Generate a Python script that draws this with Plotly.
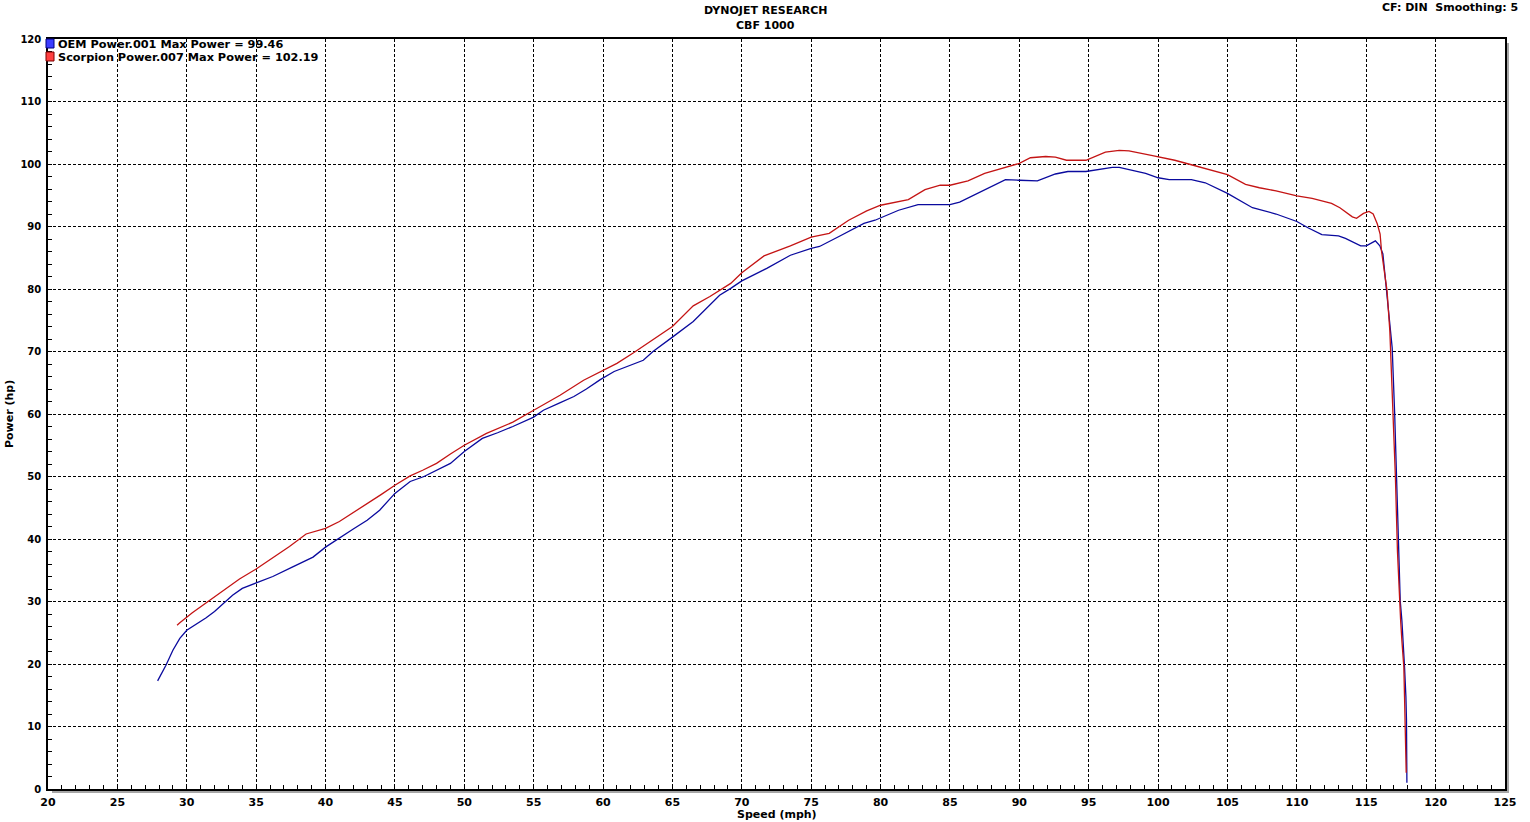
import plotly.graph_objects as go

# ---------------- data ----------------
oem_speed = [27.9, 28.5, 29.0, 29.5, 30.0, 30.7, 31.4, 32.0, 32.7, 33.3, 34.0, 35.0, 36.2, 37.6,
             39.1, 40.0, 41.0, 42.0, 43.0, 43.9, 45.0, 46.1, 47.1, 48.0, 49.0, 50.0, 51.3, 52.4,
             53.5, 55.0, 55.7, 56.8, 57.9, 58.8, 59.8, 60.8, 61.8, 62.9, 63.6, 64.3, 65.0, 66.5,
             67.4, 68.4, 69.2, 70.0, 71.8, 73.5, 75.0, 75.6, 77.0, 78.8, 79.6, 80.5, 81.3, 82.7,
             84.0, 85.0, 85.7, 87.5, 89.0, 90.0, 91.3, 92.6, 93.5, 94.8, 96.7, 97.2, 99.1, 100.0,
             100.8, 102.4, 103.4, 105.0, 106.8, 108.5, 110.0, 110.8, 111.8, 113.0, 113.5, 114.6,
             115.0, 115.66, 115.98, 116.2, 116.3, 116.5, 116.7, 116.87, 117.05, 117.2, 117.35,
             117.45, 117.57, 117.64, 117.76, 117.86, 117.9, 117.93]
oem_power = [17.3, 19.8, 22.2, 24.1, 25.4, 26.4, 27.4, 28.4, 29.8, 31.0, 32.1, 33.0, 34.0, 35.5,
             37.1, 38.7, 40.2, 41.6, 43.0, 44.6, 47.3, 49.2, 50.0, 51.0, 52.1, 54.0, 56.1, 57.0,
             58.0, 59.5, 60.6, 61.7, 62.8, 64.0, 65.5, 66.8, 67.7, 68.6, 70.0, 71.2, 72.3, 74.8,
             76.8, 79.0, 80.1, 81.3, 83.3, 85.4, 86.5, 86.8, 88.4, 90.5, 91.0, 91.8, 92.6, 93.5,
             93.5, 93.5, 93.9, 95.9, 97.5, 97.4, 97.3, 98.4, 98.8, 98.8, 99.46, 99.46, 98.5, 97.8,
             97.5, 97.5, 97.0, 95.3, 93.0, 92.0, 90.8, 89.8, 88.7, 88.5, 88.1, 86.9,
             86.9, 87.7, 86.9, 85.6, 83.4, 79.7, 75.4, 70.6, 60.0, 50.0, 38.0,
             30.1, 26.9, 23.2, 19.5, 14.7, 11.0, 1.0]

scorpion_speed = [29.3, 29.5, 30.4, 31.6, 32.6, 33.8, 35.0, 36.4, 37.4, 38.6, 40.0, 41.0, 42.0,
                  43.0, 44.0, 45.0, 46.1, 47.0, 48.0, 49.0, 50.0, 51.6, 52.5, 53.5, 55.0, 56.0,
                  56.9, 58.6, 59.8, 61.0, 62.2, 63.4, 65.0, 66.5, 67.7, 69.2, 70.0, 71.6, 73.5,
                  75.0, 76.3, 77.7, 79.0, 80.0, 81.3, 82.0, 83.2, 84.3, 85.0, 86.3, 87.5, 89.0,
                  90.0, 90.8, 91.9, 92.6, 93.4, 94.8, 96.2, 97.2, 97.9, 99.6, 101.2, 102.2, 104.4,
                  105.0, 106.3, 107.3, 108.5, 110.0, 111.1, 112.5, 113.1, 114.0, 114.3, 114.8,
                  115.2, 115.5, 115.8, 116.0, 116.1, 116.3, 116.5, 116.7, 116.75, 116.95, 117.1,
                  117.25, 117.38, 117.48, 117.57, 117.71, 117.76, 117.8, 117.88]
scorpion_power = [26.2, 26.6, 28.2, 30.1, 31.8, 33.6, 35.2, 37.3, 38.8, 40.8, 41.7, 42.8, 44.2,
                  45.7, 47.1, 48.6, 50.1, 51.0, 52.1, 53.6, 55.0, 56.9, 57.8, 58.7, 60.6, 61.8,
                  63.0, 65.4, 66.8, 68.1, 69.8, 71.6, 74.0, 77.3, 78.8, 80.9, 82.6, 85.3, 86.9,
                  88.3, 88.9, 91.0, 92.5, 93.4, 94.05, 94.3, 95.9, 96.6, 96.6, 97.3, 98.5, 99.5,
                  100.1, 101.0, 101.2, 101.1, 100.6, 100.6, 101.9, 102.19, 102.1, 101.35, 100.6,
                  100.0, 98.6, 98.3, 96.75, 96.2, 95.7, 94.9, 94.5, 93.7, 93.0, 91.55, 91.3, 92.1,
                  92.4, 92.0, 90.4, 88.8, 86.1, 82.4, 79.7, 73.3, 70.6, 60.0, 50.0,
                  38.0, 30.1, 26.9, 23.7, 19.5, 14.7, 11.0, 2.6]

legend_labels = ["OEM Power.001 Max Power = 99.46", "Scorpion Power.007 Max Power = 102.19"]
title_lines = ["DYNOJET RESEARCH", "CBF 1000"]
info_text = "CF: DIN  Smoothing: 5"
x_title = "Speed (mph)"
y_title = "Power (hp)"

# ---------------- figure ----------------
W, H = 1530, 822
L, R, T, B = 48, 25, 39, 33
PW, PH = W - L - R, H - T - B
FONT = "DejaVu Sans"

fig = go.Figure()
fig.add_trace(go.Scatter(x=oem_speed, y=oem_power, mode="lines",
                         line=dict(color="#0a0a9e", width=1.3), showlegend=False,
                         name=legend_labels[0]))
fig.add_trace(go.Scatter(x=scorpion_speed, y=scorpion_power, mode="lines",
                         line=dict(color="#c41414", width=1.3), showlegend=False,
                         name=legend_labels[1]))

def px_x(p):
    return (p - L) / PW

def px_y(p):
    return (H - B - p) / PH

shapes = [
    # shadow
    dict(type="rect", xref="paper", yref="paper", layer="below",
         x0=px_x(L + 4), x1=px_x(L + PW + 4), y0=px_y(T + 4), y1=px_y(T + PH + 4),
         fillcolor="#a6a6a6", line=dict(width=0)),
    # white plot area
    dict(type="rect", xref="paper", yref="paper", layer="below",
         x0=0, x1=1, y0=0, y1=1, fillcolor="white", line=dict(width=0)),
    # legend squares
    dict(type="rect", xref="paper", yref="paper", layer="above",
         x0=px_x(46), x1=px_x(54), y0=px_y(48), y1=px_y(39),
         fillcolor="#3d3dff", line=dict(color="#00007a", width=1)),
    dict(type="rect", xref="paper", yref="paper", layer="above",
         x0=px_x(46), x1=px_x(54), y0=px_y(61), y1=px_y(52),
         fillcolor="#ff4040", line=dict(color="#7a0000", width=1)),
]

annotations = [
    dict(text="<b>%s</b>" % title_lines[0], xref="paper", yref="paper",
         x=px_x(765), y=px_y(10), showarrow=False, xanchor="center", yanchor="middle",
         font=dict(family=FONT, size=11, color="black")),
    dict(text="<b>%s</b>" % title_lines[1], xref="paper", yref="paper",
         x=px_x(765), y=px_y(25), showarrow=False, xanchor="center", yanchor="middle",
         font=dict(family=FONT, size=11, color="black")),
    dict(text="<b>%s</b>" % info_text, xref="paper", yref="paper",
         x=px_x(1520), y=px_y(7), showarrow=False, xanchor="right", yanchor="middle",
         font=dict(family=FONT, size=11, color="black")),
    dict(text="<b>%s</b>" % legend_labels[0], xref="paper", yref="paper",
         x=px_x(56), y=px_y(44.5), showarrow=False, xanchor="left", yanchor="middle",
         font=dict(family=FONT, size=11.3, color="black")),
    dict(text="<b>%s</b>" % legend_labels[1], xref="paper", yref="paper",
         x=px_x(56), y=px_y(58), showarrow=False, xanchor="left", yanchor="middle",
         font=dict(family=FONT, size=11.3, color="black")),
    dict(text="<b>%s</b>" % x_title, xref="paper", yref="paper",
         x=px_x(777), y=px_y(814), showarrow=False, xanchor="center", yanchor="middle",
         font=dict(family=FONT, size=11, color="black")),
    dict(text="<b>%s</b>" % y_title, xref="paper", yref="paper",
         x=px_x(9), y=px_y(414), showarrow=False, xanchor="center", yanchor="middle",
         textangle=-90, font=dict(family=FONT, size=11, color="black")),
]

fig.update_layout(
    width=W, height=H,
    margin=dict(l=L, r=R, t=T, b=B, pad=0),
    paper_bgcolor="white", plot_bgcolor="white",
    shapes=shapes, annotations=annotations,
    showlegend=False,
    font=dict(family=FONT, color="black"),
)

fig.update_xaxes(
    range=[20, 125], dtick=5, tick0=20,
    showgrid=True, gridcolor="black", gridwidth=1, griddash="3px,2px",
    zeroline=False, showline=True, linecolor="black", linewidth=1.5, mirror=True,
    ticks="inside", ticklen=4, tickcolor="black", tickwidth=1,
    minor=dict(dtick=1, ticks="inside", ticklen=4, tickcolor="black", showgrid=False),
    tickfont=dict(family=FONT, size=11, color="black", weight="bold"),
    ticklabelstandoff=2,
)
fig.update_yaxes(
    range=[0, 120], dtick=10, tick0=0,
    showgrid=True, gridcolor="black", gridwidth=1, griddash="3px,2px",
    zeroline=False, showline=True, linecolor="black", linewidth=1.5, mirror=True,
    ticks="inside", ticklen=4, tickcolor="black", tickwidth=1,
    minor=dict(dtick=2, ticks="inside", ticklen=4, tickcolor="black", showgrid=False),
    tickfont=dict(family=FONT, size=10, color="black", weight="bold"),
    ticklabelstandoff=3,
)

fig.write_html(
    "out.html",
    config={"displayModeBar": False},
    post_script="document.body.style.margin='0';document.body.style.overflow='hidden';",
)
